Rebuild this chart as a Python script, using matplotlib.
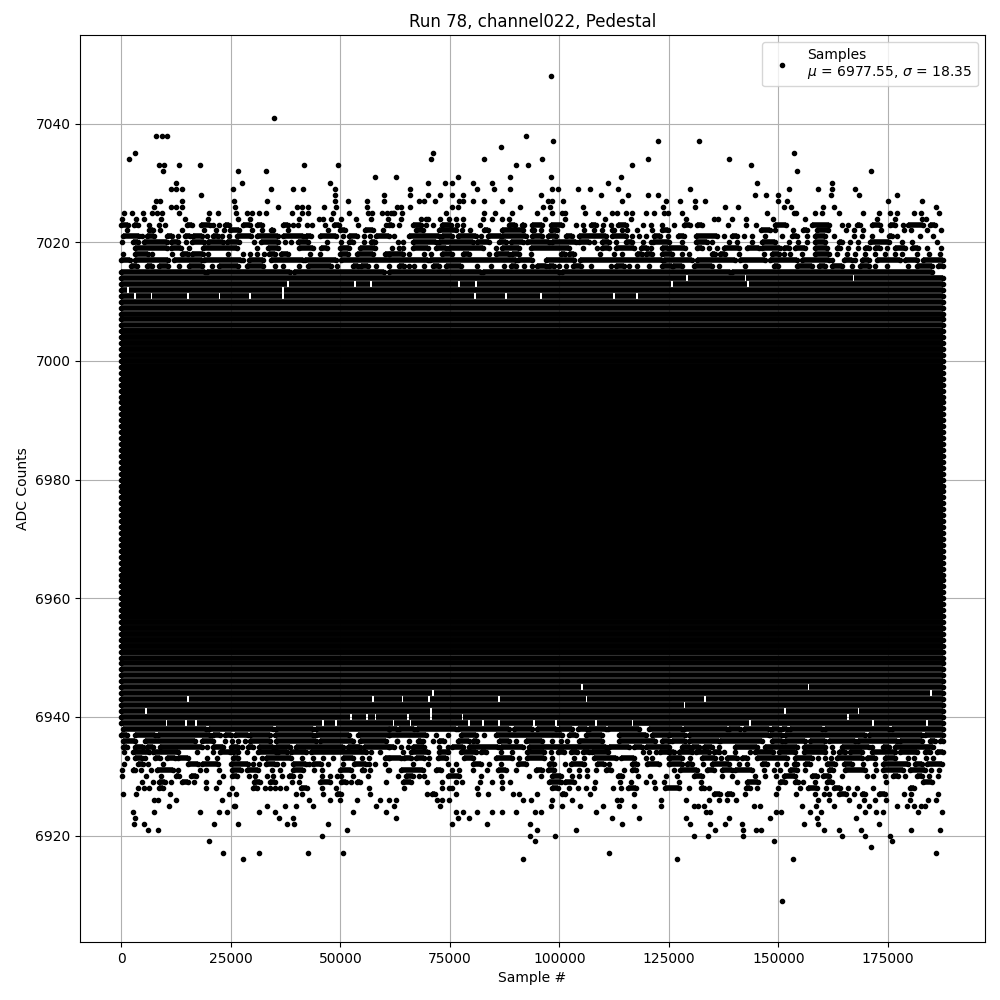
import numpy as np
import matplotlib
matplotlib.use("Agg")
import matplotlib.pyplot as plt

# Sample positions are in thousands of samples per ADC level.
# A tuple is a run of touching points (too dense to separate), a number is one point.

# solid part of the band, every level is black from end to end
band_levels = [6939, 6940, 6941, 6942, 6943, 6944, 6945, 6946, 6947, 6948, 6949, 6950, 6951, 6952, 6953,
               6954, 6955, 6956, 6957, 6958, 6959, 6960, 6961, 6962, 6963, 6964, 6965, 6966, 6967, 6968,
               6969, 6970, 6971, 6972, 6973, 6974, 6975, 6976, 6977, 6978, 6979, 6980, 6981, 6982, 6983,
               6984, 6985, 6986, 6987, 6988, 6989, 6990, 6991, 6992, 6993, 6994, 6995, 6996, 6997, 6998,
               6999, 7000, 7001, 7002, 7003, 7004, 7005, 7006, 7007, 7008, 7009, 7010, 7011, 7012, 7013, 7014]
band_start = 0.0
band_end = 187.5

# small holes in the outer rows of the solid band
gap_levels = [6939, 6939, 6939, 6939, 6939, 6939, 6939, 6939, 6939, 6939, 6939, 6939, 6939, 6939, 6939, 6939,
              6939, 6939, 6940, 6940, 6940, 6940, 6940, 6940, 6940, 6941, 6941, 6941, 6941, 6942, 6943, 6943, 6943,
              6943, 6943, 6943, 6943, 6944, 6944, 6945, 6945,
              7011, 7011, 7011, 7011, 7011, 7011, 7011, 7011, 7011, 7011, 7011, 7012, 7012, 7013, 7013, 7013, 7013,
              7013, 7013, 7013, 7014, 7014, 7014]
gap_samples = [10.3, 14.7, 17, 46, 49, 62, 61.9, 66, 79.4, 82.5, 86.3, 94.2, 99.2, 108.3, 116.7, 143.6, 171.7, 183.9,
               52.5, 56, 58, 65.5, 70.7, 77.9, 166, 5.7, 70.7, 151.6, 168.3, 128.6, 15.2, 57.4, 64.2, 70.2, 86.3, 106.2, 133.2,
               71.1, 184.8, 105.1, 156.9,
               3.1, 6.9, 15.2, 22.4, 29.3, 36.9, 80.8, 87.8, 95.8, 112.5, 117.8, 1.5, 36.9, 38, 53.3, 57, 77.1, 80.9,
               125.8, 143, 129.2, 142.5, 167.2]
gap_width = 0.4

# top of the band
row_7015 = [(0, 19), (19.5, 38.5), (39.5, 60), (61, 82), (82.5, 100), (100.5, 139), (139.5, 185)]
row_7016 = [(2.2, 3.5), (5.9, 6.9), (8.6, 10.7), 13.2, (15.5, 18.3), 20.7, (22.3, 26.6), (28.7, 32.3), 35.1, 36.9,
            40.5, (42.6, 47.9), 49.2, (52.9, 54), (54.7, 56.3), 58.1, 61.2, (63.5, 64.6), 65.6, 66.9, 69.2, (71.1, 72.6),
            (74.1, 77.5), 81.3, 84.4, 87.4, (88.9, 90.1), 92, 93.8, (95, 96.9), (97.7, 98.8), 100, 101.5, (103.2, 104.9),
            107.3, 111.7, (112.9, 114.8), 115.9, 117.8, 120.5, (123.5, 125.7), (126, 128), (130.7, 134.9), 136.4, 142.5,
            (149, 150), (154.3, 157.7), (159.2, 160.7), (162.2, 164.5), 166.8, (168.7, 170.6), 172.1, 174.8, 179.7,
            (181.6, 185), (186.5, 187.7)]
row_7017 = [(0, 1.9), (3.2, 10.7), (12, 18.3), (18.9, 27.4), 27.8, (29.1, 32.3), (34.2, 41.4), (41.9, 49.1), (50.1, 70),
            (70.5, 90), (90.5, 93.8), (97, 103.4), (104.8, 123.5), (124, 130.3), (131.5, 140.2), (141.3, 147), (148.2, 154.3),
            (155.4, 161.5), 162.2, (164.9, 166.8), 167.6, (169.1, 170.6), (172.5, 177.8), (179, 181.6), (183.1, 187.7)]
row_7018 = [0.4, (3.2, 6.1), 7, 11.6, (13.9, 15.2), (16.2, 18.7), 19.8, 24.4, 27.8, 29.4, 31, 32.6, (33.7, 35), (36.4, 38),
            43.1, 45.3, (49.9, 51.7), (53.8, 57.4), (60.2, 61.2), (61.2, 64.2), 65.7, 69.2, 70.8, (73.1, 75.6), (77.9, 79.3), 84,
            (85.5, 88.5), (89.3, 90.8), 93.5, (100.3, 101.2), (102.1, 103.4), 109.4, 112.5, 114.4, (117.8, 118.9), (119.7, 121.2),
            (123.5, 125.7), 128, 129.6, (134.9, 135.6), (136.8, 137.9), 141, 146.7, (148.6, 150.1), 151.2, 152.7, 155.4,
            (158.4, 161.5), 163.4, 165.7, 167.6, 169.8, 172.1, 174.4, 176.7, 178.2, 181.6, 184.3, 186.9]
row_7019 = [(3.2, 10.5), (11.4, 13.7), 15.5, (18.7, 26.3), 31, (33.5, 35.8), (40.5, 43.7), (45.5, 47), (50, 52), (54.5, 58),
            61.9, 63.5, 64.2, (66.5, 69.9), (71.8, 74.1), (74.9, 82.5), 85.5, (87, 90.8), (93.5, 102.2), 105.3, 108.7, (109.8, 111.3),
            (112.9, 117), (118.6, 120), 121, (123.5, 124.9), (125, 128.8), (131.5, 132.6), 134.1, 136, (137.5, 141), (142.9, 145.5),
            (146.3, 150.5), (151.2, 152.4), (153.9, 156.2), (158.4, 161.1), (163.4, 164.1), 166, 168.3, (169.8, 170.6), (172.1, 173.3),
            174.8, (176.7, 179), (180.5, 182), 183.9, 187.1]
row_7020 = [0.2, (2.7, 3.8), (5.2, 10.5), (11.4, 13), 14.8, (16.2, 18.9), (19.8, 23.2), (24.1, 26.9), 30.3, (31.9, 35.8), 37.4,
            38.7, (40.3, 42.6), 46.9, 50.1, (52, 52.9), 55.4, (57, 58), 63.1, 64.2, (66.5, 71.8), (72.6, 80.2), (81.3, 84), (86.3, 87.8),
            (88.9, 91.6), (92.7, 97.7), (98.4, 103.7), (104.5, 106.8), 107.9, (109.8, 111.3), 112.9, (115.2, 116.7), 119, 121, (121.5, 125),
            128, (131.1, 133.7), 134.9, 138.7, 140.6, 144, (146.3, 149.3), 152.4, 154.6, 156.5, (158.4, 160.7), (163.8, 164.5), 166.4, 168.3,
            (171, 175.2), 178.2, 180.5, 186.2]
row_7021 = [(0.4, 4.1), 4.8, (5.9, 7.5), (10.5, 11.6), 13, (14.6, 15.6), (16.4, 18.4), 19.6, (21, 22.1), 23, 24.6, (26.4, 29.7),
            (31, 35.8), (36.9, 41.5), (42.2, 43.4), (45.3, 49.1), 50.6, (52, 53.8), 55.4, 56.7, (58.2, 61), 62.2, (65.6, 72.6), (73.3, 75.6),
            (76.8, 81), 82, (83.8, 86.6), (87, 92.3), (93.8, 96.1), (97.3, 99.2), (101.5, 103), (104.5, 110.6), (112.1, 115.2), 116.7, 118.2,
            119.7, (121.6, 123.1), 124.7, (127.1, 128.4), (131.2, 136), 137.5, (139.4, 140.6), 142.1, 144, 147, 150.8, (153.1, 154.3), 156.5,
            (158.4, 160.7), 162.8, 167.2, 169.1, 171.4, (175.2, 175.9), 177.1, 182.4, 185.4]
row_7022 = [1.3, (6.3, 7.3), 8.9, 13.9, 18.9, 21.6, 23.4, (24.8, 26.9), 29.8, 32.1, (34.2, 34.6), 38, 47.2, (49.9, 51), (55.6, 57.4), 59.7,
            (67.2, 68.8), (72.6, 76.4), 77.7, 79.5, (82.9, 83.8), (87, 91.6), (93.8, 94.3), 95.7, (98, 99.4), 105.6, 108, 109.8, (112.1, 112.5), 114.4,
            115.5, 117.8, 121.2, (123.5, 124.7), (146.1, 148.1), 149.2, 153.3, (155.6, 156.5), (158.8, 161.3), 165.4, 167.3, 169.3, 173.4, 178.7, 180.3,
            183.9, 187.1]
row_7023 = [(0, 1.6), (2.9, 3.8), 6.3, 8.6, 10, (15, 16.2), (18.2, 20.2), 20.9, 22.3, (23.7, 24.6), (27.8, 29.3), (31, 32), (36.9, 38), 39.2, 40.3,
            42.4, 43.5, 46.6, (48.5, 49.7), 54, 60.4, (61.2, 61.9), 63.3, (66.5, 68.4), 69.5, 71.1, (73.1, 75.2), 76.6, 78.1, 81.8, (88.6, 89.8),
            (91.4, 92), (93.8, 96.1), (98, 100.5), 103.9, 105.5, (107.3, 108.3), 110, 111.9, (113.3, 115.3), 119.2, 121, 123.5, 126.1, (128.4, 129.9),
            (131.5, 132.6), 138.5, 142.6, 144.9, (149.3, 151.8), (157.7, 161.5), 164.5, 166, (167.9, 168.7), (171.4, 173.3), (175.5, 176.7), 178.5,
            (179.7, 183.1), (184.7, 185.8)]
row_7024 = [0.2, 3.4, 5.2, 9.1, 14.5, 19.8, 26.6, 29.4, 40.5, 45.1, 46, 47.8, 50.1, 53.5, 57, 60.8, 63.8, 68.3, 69.6, 70.1, 72.7, 74.7, 76.5, 77.9,
            82.5, 84.7, 87, 88.4, 96.8, 101.2, 110.5, 116.4, 128.9, 135.3, 136.3, 139.4, 142.6, 148.7, 156, 172.5, 176.6, 182.9, 183.8]
row_7025 = [0.7, 2.5, 5, 7, 8.2, 9.3, 13.2, 20, 22.1, 26.2, 28.7, 29.8, 31.4, 33, 39, 41.2, 42.6, 48.3, 52, 56.3, 57.2, 59.5, 60.6, 62, 61.6, 62.3, 64,
            74.2, 82.9, 85.4, 89.1, 94.8, 98.4, 100.5, 101.4, 105.9, 108.9, 112.1, 113.2, 115.3, 116.7, 119.7, 121.7, 124, 124.9, 128, 147.4, 153.5, 154,
            158.3, 159.9, 163.8, 169.3, 173.1, 175.6, 177, 181.1, 182.5, 186.8]
row_7026 = [7.5, 11.4, 12.5, 13.9, 26, 35.8, 40.1, 41.2, 42.6, 46.3, 49, 56.1, 62.9, 63.9, 66, 75.4, 76.8, 91.1, 96.3, 97.8, 105.3, 123.7, 131, 137.8,
            140.8, 151.2, 153, 160.1, 162.7, 186.1]
row_7027 = [7.9, 8.9, 13.9, 25.7, 33.3, 48.7, 51.7, 56.1, 59.9, 67.9, 69.2, 71.5, 77, 78, 80.2, 82.7, 86.8, 97.3, 98.4, 100.9, 114.4, 124.4, 127.5,
            131, 133.2, 149.9, 151.9, 175, 182.9]
row_7028 = [18.2, 48.7, 59.9, 66, 69.9, 72.7, 75.4, 77.9, 95.9, 109.6, 115.7, 120.3, 122.6, 144.6, 147.1, 149.9, 162, 168.4, 177]
row_7029 = [11.4, 12.5, 13.9, 25.5, 34.2, 39.2, 41.5, 48.7, 66, 81.1, 85, 88.8, 98.4, 99.6, 104.3, 107.1, 113.5, 129.8, 152.4, 159, 162.2, 167.5]
row_7030 = [12.5, 27.6, 47.6, 70.1, 73.8, 75.4, 80.4, 84.7, 111.2, 145.1, 162.2]
row_7031 = [57.9, 62.7, 76.8, 88.8, 98.2, 114.1]
row_7032 = [9.5, 26.6, 33, 154.2, 171.1]
row_7033 = [8.6, 9.8, 13.2, 18, 41.7, 49.4, 90.2, 92.9, 116.7, 143.7]
row_7034 = [1.8, 70.6, 82.7, 96.1, 120.3, 138.7]
row_7035 = [3.2, 71.1, 153.5]
row_7036 = [86.6]
row_7037 = [98.6, 122.6, 131.9]
row_7038 = [7.9, 9.2, 10.3, 92.5]
row_7041 = [34.9]
row_7048 = [98.2]

# bottom of the band
row_6938 = [(0.4, 19.3), (20, 34.6), (35.4, 43.7), (44.5, 61), (61.2, 63), (63.5, 66.9), (67.6, 76.4), (76.8, 88.5), (89.7, 93.8), (95, 99.2),
            (100, 103), (104.2, 106.4), (106.8, 110.6), (111, 118.2), (120.5, 128), (128.5, 138.3), (138.7, 141.3), (142.1, 147.8), (148.6, 150.1),
            (150.8, 152), (152.7, 160), (160.7, 175.2), (175.9, 187.5)]
row_6937 = [(0, 1.2), (3.2, 7.6), (8.4, 20.2), (21, 22.5), (23.6, 25.1), (25.9, 29), (29.4, 33.9), (35, 43.7), (44.5, 52), (54, 61.2), (61.2, 69.5),
            71.8, 74.5, (77.5, 81), 82.9, (85.5, 100.7), (102.2, 103.7), (106, 109.8), (113.6, 119.7), (121.2, 125), (125, 128.8), (129.6, 147.8), (148.2, 150.8),
            (151.6, 169.8), (170.6, 182.8), (183.5, 187.7)]
row_6936 = [(0.4, 3.1), (5.4, 16.8), (18.3, 20.9), 23.6, 25.3, 26.6, 28.2, (29.3, 33.9), (35.4, 44.5), (45.3, 52.9), (54.4, 60.5), (62.9, 63), 65.7, (67.8, 68.4), 68.8,
            71.1, (72.6, 73.7), (76.8, 79.4), (80.2, 81.3), (86.3, 88.5), 90.1, (92.3, 96.1), 98.4, 100.3, 101.8, (104.5, 109.8), (113.6, 121.9), (123.5, 125), (125.7, 128.8),
            (129.6, 136.4), (136.8, 146.3), (148.6, 150.8), (151.6, 156.2), (157.3, 160.7), (161.5, 167.6), (168.3, 177), (177.8, 182.8), (184.7, 185.8), (186.9, 187.7)]
row_6935 = [(0.4, 1.2), (3.2, 5), (5.9, 7.3), (8.8, 18.3), 19.6, (21, 23.2), (25.1, 26.6), 27.6, (28.9, 30), (31.5, 34.6), (35.4, 38.4), (39.9, 50.6), (51.7, 54.4), (55.5, 61.2),
            (61.2, 62.3), 63.8, 65.4, (66.5, 69.2), 72.6, 74.5, (75.6, 77.9), (79.4, 85.9), (86.6, 91.6), (93.1, 110.6), (111.3, 115.9), (117, 118.9), (119.7, 125),
            (128, 129.9), (130.3, 131.8), (133, 134.9), 136.4, (140.2, 145.1), (147, 154.3), (155.8, 160.7), 162.2, (164.5, 170.6), 171.4, (174, 175.2), (176.7, 185.4)]
row_6934 = [0.7, (2.7, 6.3), (7.3, 13), 17.3, 20.9, (22.5, 24.8), (25.5, 26.6), 28.7, (31.2, 35.4), (35.8, 37.7), (38.8, 42.2), (43.4, 55.9), 57, 59, 64.4, (66.1, 69.9), (72.6, 74.5), (77.5, 81),
            (82.1, 83.2), 86.6, 89.3, (92.7, 96.5), 98, (99.6, 101.1), (102.6, 104.1), (105.3, 106.8), (107.5, 111), 119, 120.5, 122, (123.1, 125), (125, 126.1), (127.3, 130.3), (131.1, 134.1),
            (135.3, 136.4), 137.5, 140, 143.6, (144.6, 148.9), (150.1, 153.9), (155.8, 160.7), 162.5, (163.8, 165.3), (166.4, 169.1), (171.4, 176.7), (177.8, 181.6), (183.5, 184.7), (186.2, 187.7)]
row_6933 = [1.3, (3.1, 4.6), 5.4, (7.7, 8.8), (10.5, 12.2), (13, 15.2), 19.6, 21.9, (25.5, 26.6), 30.3, 32.1, (33.1, 38.8), 41.2, 43.7, 46, 48.3, (50.6, 52.9), 54.9, 56.5, (60.2, 61.2),
            (61.2, 63.8), (64.6, 66.1), (67.3, 69.2), 70.3, (72.2, 74.1), (78.3, 80.2), (85.5, 89.3), 90.8, (92.7, 96.5), 98.4, 103.4, 105.7, (108, 112.9), (114, 117), 119.7, 121.2, (125, 125),
            (125, 128), 129.8, (132.6, 135.6), 136.9, (138.3, 140.6), (141.7, 142.9), (145.1, 152), (153.9, 157.7), 159, 160.7, 162, (163.4, 169), (170.2, 172.1), (174.4, 176.7), 179.7, 181.1, 183.7, 185.4]
row_6932 = [0.7, (3.8, 5), 6.1, 9.5, (15.2, 17.5), (18.3, 22.1), (25.1, 28.9), 30, 31.4, (33.1, 35), 35.6, 36.9, (39.2, 42.2), 42.8, (43.7, 45.6), 47.2, 50.6, (53.2, 55.9), 56.5, 57.9, 60.2,
            66.5, 70.1, 74.5, 76.4, (80.2, 82.1), 84, 86.6, (90.5, 92.3), (97.7, 98.8), 101.2, (102.6, 105.3), 105.6, (108.7, 110.2), 111.3, (116.7, 117.8), (120.1, 122.7), 125, (125, 128),
            (129.2, 130.3), 132.8, (134.9, 138.7), 141, 142.9, (146.3, 147.4), 149.7, 151.8, (153.5, 154.3), (156.2, 157.3), (161.1, 163), (164.9, 166.8), 169.4, 172.1, (174, 179.7), (181.2, 182.8), (183.9, 187.3)]
row_6931 = [0.2, (2.7, 3.2), 4.5, 6.8, (8.2, 11.8), 13, 18, 19.3, 22.3, (25.3, 27.4), (28.7, 31.2), 34.4, 36.2, (39.2, 41.5), 44, 45.8, (49.9, 52.5), (54.9, 55.5), 56.7, 60.8,
            61.2, (63.8, 68.8), (71.8, 73), 75.6, 77, 80.2, 83.4, (85.9, 87.8), 90.2, (94.6, 96.1), (97.3, 98.8), 102.2, 104.4, 106.4, 108.3, (110.6, 111.7), 114.8, (116.7, 117.4), 126.1, (127.6, 131.4),
            (133.7, 135.3), (137.2, 139.4), (140.2, 144), 146.7, 149, 150.4, (152.7, 154.3), 156, 159.7, (161.5, 162.6), (165.3, 169.8), 172.2, (174, 178.5), (180.1, 183.5), 184.8, 186.8]
row_6930 = [0.2, 5.7, 9.1, (12.5, 13.2), (16, 17), 23.2, (25.3, 26.4), 29.1, 30.5, 33.2, 34.6, 36.7, (38.3, 39.2), 40.8, 45.8, 47.6, 49.2, 50.1, 52.9, 56.3, 63.1, (65, 66.5), 67.9, 69.2,
            (74.5, 77.1), 82, 86.6, 93, 95.8, (98.4, 100.3), 103, 104.6, 106.4, (113.3, 114.4), 118, 120.8, 124.4, 126.9, (130.7, 132.6), 137.2, 139.4, 144.7, 147, 149.4, (151.2, 153.9), (157.6, 158.8),
            (160.3, 161.5), 164.5, 170.2, 171.6, 174.4, (176.3, 177.4), 178.9, (181.6, 182.8), 184.3, 186.4]
row_6929 = [4.8, 7.3, (8.6, 10), 11.4, (13.9, 15.2), 16.6, 19.3, 22.3, (30.3, 31.7), (33.9, 35.1), 39, 40.5, (45.3, 47.6), (50.1, 51.3), 52.4, (53.8, 54.5), 60.4, (64.2, 66.1), 69.7, 73.3, 76.4, 77.7,
            81.8, 84.7, 86.8, 88.8, (97.7, 100.3), (101.3, 103.4), 108.2, 113.9, 116.4, 119.8, 121.7, 124, 127.4, 132.3, 140.5, (142.9, 145.3), (150.5, 151.6), (153.9, 154.4), 155.6, 158.3, (161.1, 162.2), 174.7, (183.1, 185)]
row_6928 = [3.8, 5.2, 6.4, (8.6, 9.5), 19.3, 21.6, 25.3, (30.1, 31), 32.8, 33.9, 35.1, 36.2, 37.6, (41, 42.4), 45.8, 49, 56.5, 64.6, 73.1, 74.7, 75.6, 81.1, 86.8, (98.4, 99.6), 102.1, 104.3, 106.2, 108, 112.3,
            114.1, (115.7, 117.6), 121.9, (124.2, 127.3), 129.6, (132.3, 133), 134.2, (142.6, 143.5), 145.1, 149.9, 154.9, (156.8, 158.8), 160.9, (162.7, 164.1), 165.9, 167.9, 171.6, (180, 180.9)]
row_6927 = [0.4, 3.4, 11.1, 24.6, 26.2, 39.9, 41.2, 46, (49.2, 50.1), 56.7, 69.7, (71, 71.5), 76.5, 81.5, 83.8, 89.5, 90.9, 94.8, (100.7, 101.4), 106.9, 117.1, (135.3, 136.7), (138.3, 139.4), 142.4,
            149.4, 154, 158.3, 160.4, 161.5, (163.8, 165.4), 167.4, (169, 169.9), (173.1, 174.4), 178.6, 180.4, 186.4]
row_6926 = [7.5, 8.4, 12.5, 23, 42.8, 47.6, 49.9, 53.8, 59, 61.2, 62.6, 72, 73.3, 74.7, 91.6, 93.6, 98.4, 103, 113.2, 114.1, 123.3, 128.9, 134.2, 136.4, 138.3, 140.3, 159, 161.5, 166.1, 169.5, 172, 174.7,
            180, 184.1, 185.9]
row_6925 = [10.9, 25.6, 26, 33.3, 37.4, 39.9, 43.7, 58.1, 62.2, 72.7, 98, 100.7, 104.8, 110, 113.7, 117.1, 123.3, 130.7, 131.6, 133, 144.4, 145.8, 155.4, 158.5, 162.7, 168.4, 170.6, 177, 179.3, 180.9, 182.5, 183.4]
row_6924 = [2.7, 7.5, 18, 22.3, 24.1, 31.4, 35.1, 52.9, 60.4, 76.3, 77.9, 81.3, 84.7, 86.8, 90.2, 94.5, 95.9, 108.4, 133.5, 134.4, 149.4, 150.6, 157.2, 159.7, 169.9, 172.2, 174, 181.8, 187.3]
row_6923 = [3.2, 36, 39.2, 62.7, 76.8, 79.3, 112.1, 118.3, 128.9, 138.7, 148.1, 158.8, 167.7]
row_6922 = [2.9, 5.2, 21.2, 26.6, 37.8, 39.4, 47.2, 75.4, 83.4, 93.4, 114.4, 129.8, 134.4, 137.8, 141.7, 155.8, 159, 173.1]
row_6921 = [6.1, 8.4, 51.5, 94.8, 103.7, 135.5, 141.9, 145, 146, 160.4, 163.8, 168.8, 180.2, 187]
row_6920 = [45.8, 93.4, 99.1, 130.7, 133.9, 141.9, 164.5, 169.9, 175.6]
row_6919 = [20, 94.5, 149, 175.9]
row_6918 = [171.1]
row_6917 = [23.2, 31.4, 42.6, 50.6, 111.4, 185.9]
row_6916 = [27.8, 91.8, 126.9, 153.3]
row_6909 = [150.8]

row_levels = [7015, 7016, 7017, 7018, 7019, 7020, 7021, 7022, 7023, 7024, 7025, 7026, 7027, 7028, 7029, 7030, 7031, 7032,
              7033, 7034, 7035, 7036, 7037, 7038, 7041, 7048,
              6938, 6937, 6936, 6935, 6934, 6933, 6932, 6931, 6930, 6929, 6928, 6927, 6926, 6925, 6924, 6923, 6922, 6921,
              6920, 6919, 6918, 6917, 6916, 6909]
row_samples = [row_7015, row_7016, row_7017, row_7018, row_7019, row_7020, row_7021, row_7022, row_7023, row_7024, row_7025,
               row_7026, row_7027, row_7028, row_7029, row_7030, row_7031, row_7032, row_7033, row_7034, row_7035, row_7036,
               row_7037, row_7038, row_7041, row_7048,
               row_6938, row_6937, row_6936, row_6935, row_6934, row_6933, row_6932, row_6931, row_6930, row_6929, row_6928,
               row_6927, row_6926, row_6925, row_6924, row_6923, row_6922, row_6921, row_6920, row_6919, row_6918, row_6917,
               row_6916, row_6909]

# Split rows into runs (drawn as bars of touching points) and lone points
run_y, run_x0, run_x1, dot_x, dot_y = [], [], [], [], []
for level, samples in zip(row_levels, row_samples):
    for s in samples:
        if isinstance(s, tuple):
            run_y.append(level)
            run_x0.append(s[0])
            run_x1.append(s[1])
            dot_x += [s[0], s[1]]
            dot_y += [level, level]
        else:
            dot_x.append(s)
            dot_y.append(level)

# Band rows, cut at their holes
band_y, band_x0, band_x1, band_lw = [], [], [], []
for level in band_levels:
    holes = sorted(g for l, g in zip(gap_levels, gap_samples) if l == level)
    edges = [band_start] + [v for g in holes for v in (g - gap_width / 2, g + gap_width / 2)] + [band_end]
    # in the middle so many points overlap that the thin gaps between levels close up
    dist = abs(level - 6978)
    lw = 4.6 if dist < 22 else (4.3 if dist < 28 else 4.05)
    for a, b in zip(edges[::2], edges[1::2]):
        band_y.append(level)
        band_x0.append(a)
        band_x1.append(b)
        band_lw.append(lw)
    dot_x += [band_start, band_end]
    dot_y += [level, level]

fig, ax = plt.subplots(figsize=(10, 10), dpi=100)
ax.hlines(band_y, np.array(band_x0) * 1000, np.array(band_x1) * 1000, color="black", linewidth=band_lw, zorder=2)
ax.hlines(run_y, np.array(run_x0) * 1000, np.array(run_x1) * 1000, color="black", linewidth=4, zorder=2)
ax.plot(np.array(dot_x) * 1000, dot_y, "k.", label="Samples\n$\\mu$ = 6977.55, $\\sigma$ = 18.35")
ax.set_title("Run 78, channel022, Pedestal")
ax.set_xlabel("Sample #")
ax.set_ylabel("ADC Counts")
ax.grid(True)
ax.legend(loc="upper right")
fig.subplots_adjust(left=0.0803, right=0.9845, top=0.965, bottom=0.058)
fig.savefig("out.png")
